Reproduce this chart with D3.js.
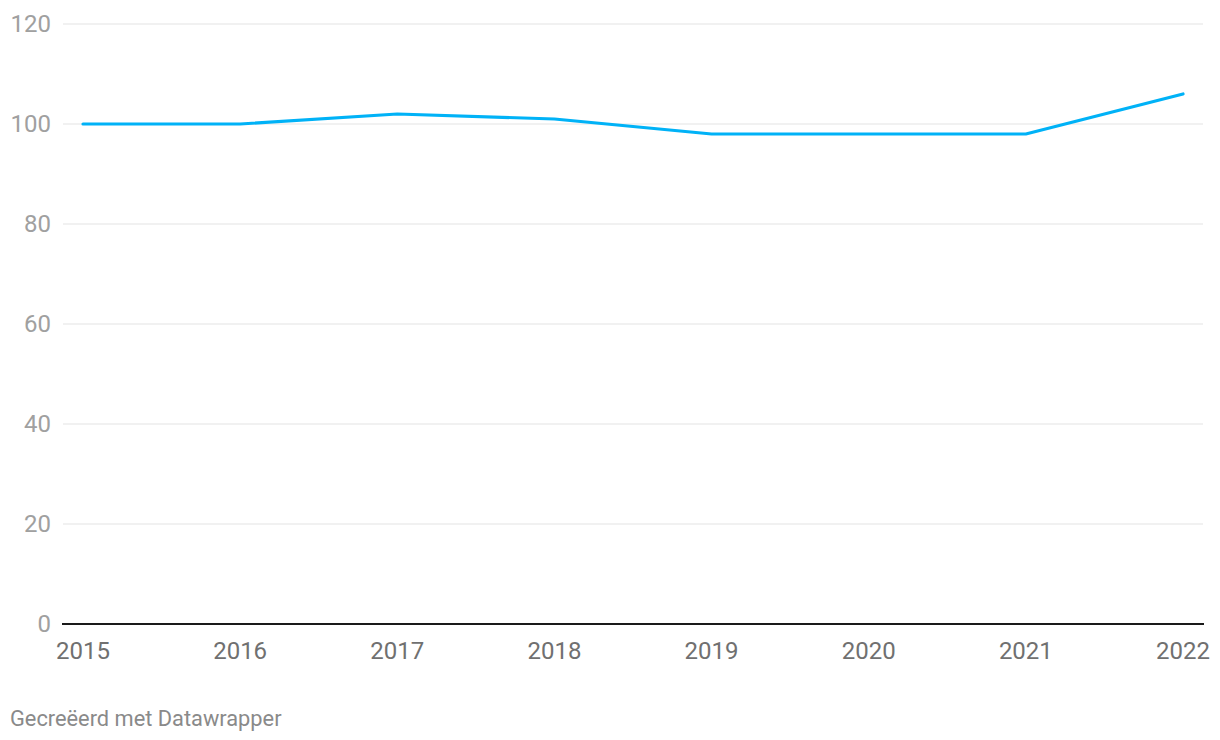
<!DOCTYPE html>
<html><head><meta charset="utf-8">
<script src="https://cdn.jsdelivr.net/npm/d3@7"></script>
<style>
html,body{margin:0;padding:0;background:#fff;}
svg text{font-family:Roboto,"Noto Sans",sans-serif;}
</style></head>
<body><svg id="c" width="1220" height="740"></svg>
<script>
const years = [2015, 2016, 2017, 2018, 2019, 2020, 2021, 2022];
const values = [100, 100, 102, 101, 98, 98, 98, 106];
const yTicks = [0, 20, 40, 60, 80, 100, 120];

const svg = d3.select("#c");
const x = d3.scaleLinear().domain([2015, 2022]).range([83, 1183]);
const y = d3.scaleLinear().domain([0, 120]).range([624, 24]);

const grid = svg.append("g");
grid.selectAll("line").data(yTicks.filter(d => d !== 0)).join("line")
  .attr("x1", 63).attr("x2", 1203)
  .attr("y1", d => y(d)).attr("y2", d => y(d))
  .attr("stroke", "#e3e3e3").attr("stroke-width", 1);

svg.append("g").selectAll("text").data(yTicks).join("text")
  .attr("x", 51).attr("y", d => y(d)).attr("dy", "0.35em")
  .attr("text-anchor", "end").attr("font-size", 24).attr("fill", "#a0a0a0")
  .text(d => d);

svg.append("line").attr("x1", 62).attr("x2", 1204)
  .attr("y1", y(0)).attr("y2", y(0))
  .attr("stroke", "#1a1a1a").attr("stroke-width", 2);

svg.append("g").selectAll("text").data(years).join("text")
  .attr("x", d => x(d)).attr("y", 658.5)
  .attr("text-anchor", "middle").attr("font-size", 24).attr("fill", "#707070")
  .text(d => d);

const line = d3.line().x((d, i) => x(years[i])).y(d => y(d));
svg.append("path").datum(values)
  .attr("d", line).attr("fill", "none")
  .attr("stroke", "#00b2f7").attr("stroke-width", 3.2)
  .attr("stroke-linejoin", "round").attr("stroke-linecap", "round");

svg.append("text").attr("x", 10).attr("y", 726)
  .attr("font-size", 21.8).attr("fill", "#8a8a8a")
  .text("Gecreëerd met Datawrapper");
</script></body></html>
